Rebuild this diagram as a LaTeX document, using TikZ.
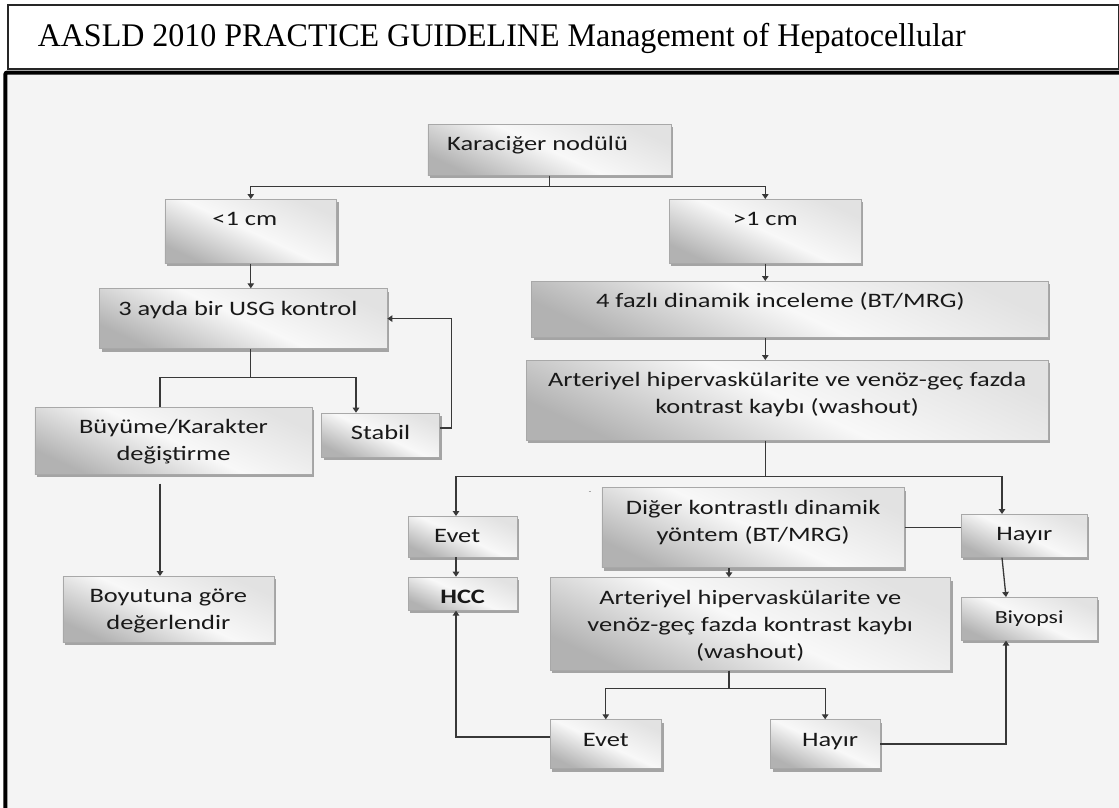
\documentclass[tikz,border=0pt]{standalone}
\usepackage{fontspec}
\usetikzlibrary{arrows.meta,shadows,calc}
\newfontfamily\boxfont{Carlito}[FakeStretch=1.29]
\newfontfamily\headfont{Liberation Serif}[FakeStretch=0.97]
\definecolor{panel}{HTML}{F4F4F4}
\definecolor{wire}{HTML}{383838}
\definecolor{edge}{HTML}{A8A8A8}
\definecolor{shadowgray}{HTML}{A4A4A4}
\definecolor{boxtop}{HTML}{E2E2E2}
\definecolor{boxmid}{HTML}{F8F8F8}
\definecolor{boxbot}{HTML}{B2B2B2}

\tikzset{
  flowbox/.style={anchor=north west, inner sep=0pt, draw=edge, line width=0.6pt,
    top color=boxtop, bottom color=boxbot, middle color=boxmid, shading angle=-25,
    drop shadow={shadow xshift=2pt, shadow yshift=-3pt, fill=shadowgray, opacity=1},
    font=\boxfont\fontsize{20.5pt}{27pt}\selectfont, text=black!90},
  wireline/.style={draw=wire, line width=1.3pt},
  arr/.style={wireline, -{Triangle[length=5pt,width=6.5pt]}}
}

% \fb[style]{name}{x}{y}{width}{height}{text}
\newcommand{\fb}[7][]{%
  \node[flowbox,#1] (#2) at (#3,#4)
    {\parbox[c][#6pt][t]{#5pt}{\centering\rule{0pt}{26.5pt}#7\par}};}

\begin{document}
\begin{tikzpicture}[x=1pt,y=-1pt]
\useasboundingbox (0,0) rectangle (1119,807);
\fill[white] (0,0) rectangle (1119,807);

% page frame
\fill[panel] (5,72) rectangle (1121,809);
\draw[black, line width=4pt, rounded corners=2pt] (5.3,809) -- (5.3,72.5) -- (1121,72.5);

% heading
\node[anchor=north west, inner sep=0pt, draw=black!85, line width=1.5pt, fill=white] (title) at (7,4)
  {\parbox[c][64pt][t]{1111pt}{\headfont\fontsize{33pt}{36pt}\selectfont\hspace*{30pt}\rule{0pt}{42pt}AASLD 2010 PRACTICE GUIDELINE Management of Hepatocellular}};

% boxes
\fb{kn}{427.5}{124}{243.5}{51}{Karaciğer nodülü\hspace*{24pt}}
\fb{lt}{164.6}{199}{171.8}{64}{<1 cm\hspace*{12pt}}
\fb{gt}{669}{199}{192}{64}{>1 cm}
\fb{usg}{99.3}{288.3}{287.5}{60}{3 ayda bir USG kontrol\hspace*{11pt}}
\fb{f4}{531.4}{281}{516.3}{56}{4 fazlı dinamik inceleme (BT/MRG)\hspace*{19pt}}
\fb{art1}{526}{360}{521.7}{80}{Arteriyel hipervaskülarite ve venöz-geç fazda\\kontrast kaybı (washout)}
\fb{bg}{34.6}{406.7}{277.2}{67.3}{Büyüme/Karakter\\değiştirme}
\fb{st}{321.4}{412.7}{117.9}{44}{Stabil}
\fb{boy}{62.5}{576}{211.1}{65.7}{Boyutuna göre\\değerlendir}
\fb{ev1}{408}{516}{108.7}{40.7}{Evet\hspace*{11pt}}
\fb{hcc}{408}{576.7}{108.7}{33.3}{\bfseries HCC}
\fb{dg}{601.5}{487.3}{302.5}{80}{Diğer kontrastlı dinamik\\yöntem (BT/MRG)}
\fb{hy1}{961}{514}{126}{43}{Hayır}
\fb{art2}{549.7}{577.3}{400.5}{92.7}{Arteriyel hipervaskülarite ve\\venöz-geç fazda kontrast kaybı\\(washout)}
\fb[font=\boxfont\fontsize{18.5pt}{24pt}\selectfont]{biy}{960.7}{597}{136.3}{43}{Biyopsi}
\fb{ev2}{549.7}{719.3}{111.6}{49}{Evet}
\fb{hy2}{770.2}{719.3}{109.3}{49}{\hspace*{10pt}Hayır}

% vertical guide positions of the connectors
\coordinate (evx) at (456,0);
\coordinate (hyx) at (1002,0);
\coordinate (dgx) at (729,0);
\coordinate (bix) at (1006,0);
\coordinate (bgx) at (160,0);
\coordinate (stx) at (356,0);

% connectors
\draw[arr] (kn.south) -- ++(0,11) -| (lt.north);
\draw[arr] (kn.south) -- ++(0,11) -| (gt.north);
\draw[arr] (lt.south) -- (lt.south |- usg.north);
\draw[arr] (gt.south) -- (gt.south |- f4.north);
\draw[arr] (f4.south -| gt.south) -- (art1.north -| gt.south);
\draw[arr] (art1.south -| gt.south) -- ++(0,36) -| (ev1.north -| evx);
\draw[arr] (art1.south -| gt.south) -- ++(0,36) -| (hy1.north -| hyx);
\draw[arr] (ev1.south -| evx) -- (hcc.north -| evx);
\draw[wireline] (dg.east) -- (dg.east -| hy1.west);
\draw[arr] (dg.south -| dgx) -- (art2.north -| dgx);
\draw[arr] (art2.south -| dgx) -- ++(0,18) -| (ev2.north);
\draw[arr] (art2.south -| dgx) -- ++(0,18) -| (hy2.north);
\draw[arr] ([yshift=7pt]ev2.west) -| (hcc.south -| evx);
\draw[arr] (hy2.east) -| (biy.south -| bix);
\draw[arr] (hy1.south -| hyx) -- (biy.north -| bix);
\draw[wireline] (usg.south -| lt.south) -- ++(0,28.4) -| (bg.north -| bgx);
\draw[arr] (usg.south -| lt.south) -- ++(0,28.4) -| (st.north -| stx);
\draw[arr] ([yshift=7pt]st.east) -- ++(11.4,0) |- (usg.east);
\draw[arr] ($(bg.south -| bgx)+(0,9)$) -- (boy.north -| bgx);

% small stray mark beside the dynamic-method box
\draw[edge, line width=0.8pt] (588.5,491.7) -- (591,491.7);
\end{tikzpicture}
\end{document}
